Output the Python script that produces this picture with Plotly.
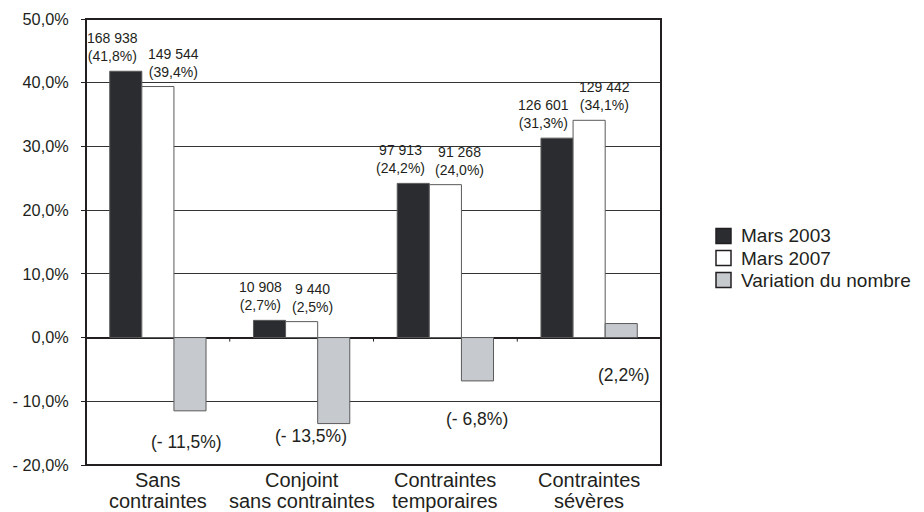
import plotly.graph_objects as go

# ---- data ----
categories = ["Sans<br>contraintes", "Conjoint<br>sans contraintes",
              "Contraintes<br>temporaires", "Contraintes<br>sévères"]
series_names = ["Mars 2003", "Mars 2007", "Variation du nombre"]
pct_2003 = [41.8, 2.7, 24.2, 31.3]
pct_2007 = [39.4, 2.5, 24.0, 34.1]
variation = [-11.5, -13.5, -6.8, 2.2]
count_2003 = [168938, 10908, 97913, 126601]
count_2007 = [149544, 9440, 91268, 129442]
ytick_vals = [50, 40, 30, 20, 10, 0, -10, -20]

# ---- styles ----
FONT = "Liberation Sans, Arial, Helvetica, sans-serif"
TXT = "#231f20"
colors = ["#2a2c30", "#ffffff", "#c6c9ce"]
var_label_yshift = [-104, -98, -81, -37]
var_label_xshift = [-3, -23, 0, 3]
BARGAP = 0.33
w = (1 - BARGAP) / 3

W, H = 916, 504          # page body has an 8px margin
ML, MR, MT, MB = 78, 263, 11, 47
PW, PH = W - ML - MR, H - MT - MB


def px_x(px):
    return (px - ML) / PW


def px_y(py):
    return 1 - (py - MT) / PH


def fmt_pct(v):
    s = f"{abs(v):.1f}".replace(".", ",")
    return f"- {s}%" if v < 0 else f"{s}%"


def fmt_count(n):
    return f"{n:,}".replace(",", " ")


x = list(range(len(categories)))
fig = go.Figure()
for name, vals, col in zip(series_names, [pct_2003, pct_2007, variation], colors):
    fig.add_trace(go.Bar(x=x, y=vals, name=name,
                         marker=dict(color=col, line=dict(color="#5a5a5a", width=1)),
                         showlegend=False))

ann = []
for i in x:
    ann.append(dict(x=i - w / 2, y=pct_2003[i], xref="x", yref="y", xanchor="right", yanchor="bottom",
                    text=f"{fmt_count(count_2003[i])}<br>({fmt_pct(pct_2003[i])})", showarrow=False,
                    xshift=-2, yshift=5, align="center", font=dict(size=14, color=TXT, family=FONT)))
    ann.append(dict(x=i - w / 2, y=pct_2007[i], xref="x", yref="y", xanchor="left", yanchor="bottom",
                    text=f"{fmt_count(count_2007[i])}<br>({fmt_pct(pct_2007[i])})", showarrow=False,
                    xshift=4, yshift=5, align="center", font=dict(size=14, color=TXT, family=FONT)))
    ann.append(dict(x=i + w, y=0, xref="x", yref="y", xanchor="center", yanchor="middle",
                    text=f"({fmt_pct(variation[i])})", showarrow=False,
                    xshift=var_label_xshift[i], yshift=var_label_yshift[i],
                    font=dict(size=17.5, color=TXT, family=FONT)))
    lines = categories[i].split("<br>")
    for k, line in enumerate(lines):
        ann.append(dict(x=i, y=0, xref="x", yref="paper", xanchor="center", yanchor="middle",
                        text=line, showarrow=False, yshift=-15 - 21 * k,
                        font=dict(size=20, color=TXT, family=FONT)))

shapes = [dict(type="rect", xref="paper", yref="paper", x0=0, x1=1, y0=0, y1=1,
               line=dict(color=TXT, width=2), layer="above")]
for i in x[:-1]:
    shapes.append(dict(type="line", xref="x", yref="y", x0=i + 0.5, x1=i + 0.5,
                       ysizemode="pixel", yanchor=0, y0=0, y1=-4, line=dict(color=TXT, width=1)))

# legend (drawn box + text), rows 22px apart
leg_sq_x, leg_top, leg_step, sq = 708, 228, 22, 15
for k, (name, col) in enumerate(zip(series_names, colors)):
    cy = leg_top + k * leg_step
    shapes.append(dict(type="rect", xref="paper", yref="paper",
                       x0=px_x(leg_sq_x), x1=px_x(leg_sq_x + sq),
                       y0=px_y(cy + sq / 2), y1=px_y(cy - sq / 2),
                       fillcolor=col, line=dict(color=TXT, width=1.5)))
    ann.append(dict(x=px_x(leg_sq_x + sq + 8), y=px_y(cy), xref="paper", yref="paper",
                    xanchor="left", yanchor="middle", text=name, showarrow=False,
                    font=dict(size=19, color=TXT, family=FONT)))

fig.update_layout(
    width=W, height=H,
    margin=dict(l=ML, r=MR, t=MT, b=MB, autoexpand=False),
    paper_bgcolor="white", plot_bgcolor="white",
    barmode="group", bargap=BARGAP, bargroupgap=0,
    font=dict(family=FONT, color=TXT),
    annotations=ann, shapes=shapes, showlegend=False,
    xaxis=dict(range=[-0.5, 3.5], showticklabels=False, showgrid=False, zeroline=False, ticks=""),
    yaxis=dict(range=[-20, 50], tickvals=ytick_vals, ticktext=[fmt_pct(v) for v in ytick_vals],
               showgrid=True, gridcolor="#333333", gridwidth=1, zeroline=True, zerolinecolor=TXT,
               zerolinewidth=1.5, ticks="outside", ticklen=4, tickcolor=TXT,
               ticklabelstandoff=9, tickfont=dict(size=16.3, color=TXT, family=FONT)),
)
fig.write_html("out.html")
